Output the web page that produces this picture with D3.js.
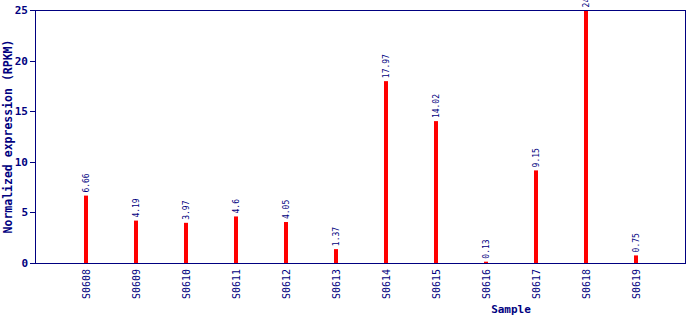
<!DOCTYPE html>
<html>
<head>
<meta charset="utf-8">
<script src="https://cdn.jsdelivr.net/npm/d3@7"></script>
<style>
  body { margin: 0; background: #fff; }
  svg { display: block; }
</style>
</head>
<body>
<div id="chart"></div>
<script>
const samples = ['S0608', 'S0609', 'S0610', 'S0611', 'S0612', 'S0613', 'S0614', 'S0615', 'S0616', 'S0617', 'S0618', 'S0619'];
const values = [6.66, 4.19, 3.97, 4.6, 4.05, 1.37, 17.97, 14.02, 0.13, 9.15, 24.96, 0.75];
const labels = ['6.66', '4.19', '3.97', '4.6', '4.05', '1.37', '17.97', '14.02', 0.13, '9.15', '24.96', '0.75'];
const yTicks = [0, 5, 10, 15, 20, 25];

const navy = '#000080';
const font = "'DejaVu Sans Mono', monospace";

const margin = { top: 10, right: 5, bottom: 57, left: 35 };
const width = 690 - margin.left - margin.right;
const height = 320 - margin.top - margin.bottom;

const svg = d3.select('#chart').append('svg')
  .attr('width', 690)
  .attr('height', 320)
  .append('g')
  .attr('transform', `translate(${margin.left},${margin.top})`);

const x = d3.scalePoint()
  .domain(samples)
  .range([0, width])
  .padding(1);

const y = d3.scaleLinear()
  .domain([0, 25])
  .range([height, 0]);

// bars
svg.append('g')
  .selectAll('rect')
  .data(samples)
  .enter()
  .append('rect')
  .attr('x', d => x(d) - 1)
  .attr('y', (d, i) => y(values[i]))
  .attr('width', 4)
  .attr('height', (d, i) => height - y(values[i]))
  .style('fill', '#ff0000');

// value labels
svg.append('g')
  .selectAll('text')
  .data(samples)
  .enter()
  .append('text')
  .attr('transform', (d, i) => `translate(${x(d) + 1},${y(values[i]) - 3}) rotate(-90)`)
  .attr('dy', '0.35em')
  .style('font-family', font)
  .style('font-size', '8px')
  .style('fill', navy)
  .text((d, i) => labels[i]);

// frame
svg.append('rect')
  .attr('width', width)
  .attr('height', height)
  .style('fill', 'none')
  .style('stroke', navy)
  .style('stroke-width', 1)
  .attr('shape-rendering', 'crispEdges');

// Y axis
const yAxis = svg.append('g')
  .call(d3.axisLeft(y).tickValues(yTicks).tickSize(5).tickPadding(2));
yAxis.select('.domain').remove();
yAxis.selectAll('line').style('stroke', navy).attr('shape-rendering', 'crispEdges');
yAxis.selectAll('text')
  .style('fill', navy)
  .style('font-family', font)
  .style('font-size', '11px')
  .style('font-weight', 'bold');

// X axis
const xAxis = svg.append('g')
  .attr('transform', `translate(0,${height})`)
  .call(d3.axisBottom(x).tickSize(0));
xAxis.select('.domain').remove();
xAxis.selectAll('text')
  .attr('transform', 'rotate(-90)')
  .attr('x', -6)
  .attr('y', 1)
  .attr('dy', '0.35em')
  .style('text-anchor', 'end')
  .style('fill', navy)
  .style('font-family', font)
  .style('font-size', '10px');

// X label
svg.append('text')
  .attr('x', 476)
  .attr('y', height + 50)
  .style('text-anchor', 'middle')
  .style('fill', navy)
  .style('font-family', font)
  .style('font-size', '11px')
  .style('font-weight', 'bold')
  .text('Sample');

// Y label
svg.append('text')
  .attr('transform', 'rotate(-90)')
  .attr('x', -height / 2)
  .attr('y', -margin.left + 8)
  .attr('dy', '0.35em')
  .style('text-anchor', 'middle')
  .style('fill', navy)
  .style('font-family', font)
  .style('font-size', '11.5px')
  .style('font-weight', 'bold')
  .text('Normalized expression (RPKM)');
</script>
</body>
</html>
